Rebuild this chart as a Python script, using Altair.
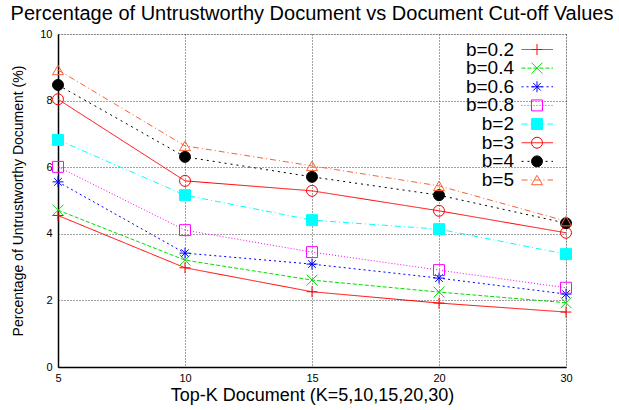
import altair as alt
import pandas as pd

# Top-K cut-off values (drawn as evenly spaced categories)
k_values = ["5", "10", "15", "20", "30"]
series = ["b=0.2", "b=0.4", "b=0.6", "b=0.8", "b=2", "b=3", "b=4", "b=5"]

# Percentage of untrustworthy documents per b value
b02 = [4.55, 2.98, 2.26, 1.92, 1.65]
b04 = [4.71, 3.21, 2.61, 2.25, 1.93]
b06 = [5.56, 3.42, 3.09, 2.67, 2.19]
b08 = [6.01, 4.11, 3.45, 2.91, 2.38]
b2 = [6.82, 5.16, 4.41, 4.14, 3.39]
b3 = [8.04, 5.59, 5.29, 4.69, 4.03]
b4 = [8.47, 6.31, 5.71, 5.16, 4.32]
b5 = [8.92, 6.64, 6.04, 5.44, 4.38]

colors = ["#ff0000", "#00e000", "#0000ff", "#ff00ff", "#00ffff", "#ff0000", "#000000", "#ff6030"]
dashes = [[1, 0], [4, 2], [2, 3], [1, 2], [6, 3, 1, 3], [1, 0], [2, 4], [6, 3, 1, 3]]
shapes = [
    "M-1,0L1,0M0,-1L0,1",
    "M-1,-1L1,1M-1,1L1,-1",
    "M-1,0L1,0M0,-1L0,1M-0.7,-0.7L0.7,0.7M-0.7,0.7L0.7,-0.7",
    "square",
    "square",
    "circle",
    "circle",
    "triangle-up",
]
fills = ["transparent", "transparent", "transparent", "transparent",
         "#00ffff", "transparent", "#000000", "transparent"]

values = [b02, b04, b06, b08, b2, b3, b4, b5]
rows = []
for name, vals in zip(series, values):
    for k, v in zip(k_values, vals):
        rows.append({"k": k, "series": name, "pct": v})
df = pd.DataFrame(rows)
legend_df = pd.DataFrame({"series": series})

FONT = "Liberation Sans"

color_enc = alt.Color("series:N", scale=alt.Scale(domain=series, range=colors), legend=None)
dash_enc = alt.StrokeDash("series:N", scale=alt.Scale(domain=series, range=dashes), legend=None)
shape_enc = alt.Shape("series:N", scale=alt.Scale(domain=series, range=shapes), legend=None)
fill_enc = alt.Fill("series:N", scale=alt.Scale(domain=series, range=fills), legend=None)

x_enc = alt.X(
    "k:O",
    sort=k_values,
    scale=alt.Scale(type="point", padding=0),
    axis=alt.Axis(
        title="Top-K Document (K=5,10,15,20,30)",
        titleFontSize=18,
        titleFont=FONT,
        titleFontWeight="normal",
        titlePadding=3,
        labelFontSize=11,
        labelFont=FONT,
        labelAngle=0,
        labelPadding=5,
        ticks=False,
        grid=True,
        gridColor="#444444",
        gridDash=[1, 2],
        gridWidth=1,
        domainColor="black",
        domainWidth=1.5,
    ),
)
y_enc = alt.Y(
    "pct:Q",
    scale=alt.Scale(domain=[0, 10], nice=False),
    axis=alt.Axis(
        title="Percentage of Untrustworthy Document (%)",
        titleFontSize=14,
        titleFont=FONT,
        titleFontWeight="normal",
        titlePadding=14,
        values=[0, 2, 4, 6, 8, 10],
        labelFontSize=11,
        labelFont=FONT,
        labelPadding=6,
        ticks=False,
        grid=True,
        gridColor="#444444",
        gridDash=[1, 2],
        gridWidth=1,
        domainColor="black",
        domainWidth=1.5,
    ),
)

lines = alt.Chart(df).mark_line(strokeWidth=1).encode(
    x=x_enc, y=y_enc, color=color_enc, strokeDash=dash_enc, detail="series:N"
)
points = alt.Chart(df).mark_point(filled=False, opacity=1, strokeWidth=1, size=120).encode(
    x=x_enc, y=y_enc, shape=shape_enc, stroke=color_enc, fill=fill_enc
)
main = alt.layer(lines, points)

# Key in the upper-right corner: right-aligned labels followed by line samples
leg_y = alt.Y("series:N", sort=series,
              scale=alt.Scale(type="point", domain=series, range=[15.5, 146], padding=0),
              axis=None)
leg_rule = alt.Chart(legend_df).mark_rule(strokeWidth=1).encode(
    x=alt.value(463.5), x2=alt.value(495), y=leg_y, color=color_enc, strokeDash=dash_enc
)
leg_pts = alt.Chart(legend_df).mark_point(filled=False, opacity=1, strokeWidth=1, size=120).encode(
    x=alt.value(479), y=leg_y, shape=shape_enc, stroke=color_enc, fill=fill_enc
)
leg_text = alt.Chart(legend_df).mark_text(
    align="right", baseline="middle", fontSize=19, font=FONT, color="black"
).encode(x=alt.value(456), y=leg_y, text="series:N")
legend = alt.layer(leg_rule, leg_pts, leg_text)

chart = (
    alt.layer(main, legend)
    .resolve_scale(y="independent")
    .properties(
        width=508,
        height=333,
        autosize=alt.AutoSizeParams(type="none"),
        padding={"left": 58, "top": 34, "right": 53, "bottom": 43},
        title=alt.TitleParams(
            "Percentage of Untrustworthy Document vs Document Cut-off Values",
            fontSize=20,
            font=FONT,
            fontWeight="normal",
            anchor="middle",
            baseline="alphabetic",
            offset=-12,
            color="black",
        ),
    )
    .configure_view(stroke="black", strokeWidth=1.5)
    .configure(background="white")
)

chart.save("out.html", embed_options={"renderer": "svg", "actions": False})
